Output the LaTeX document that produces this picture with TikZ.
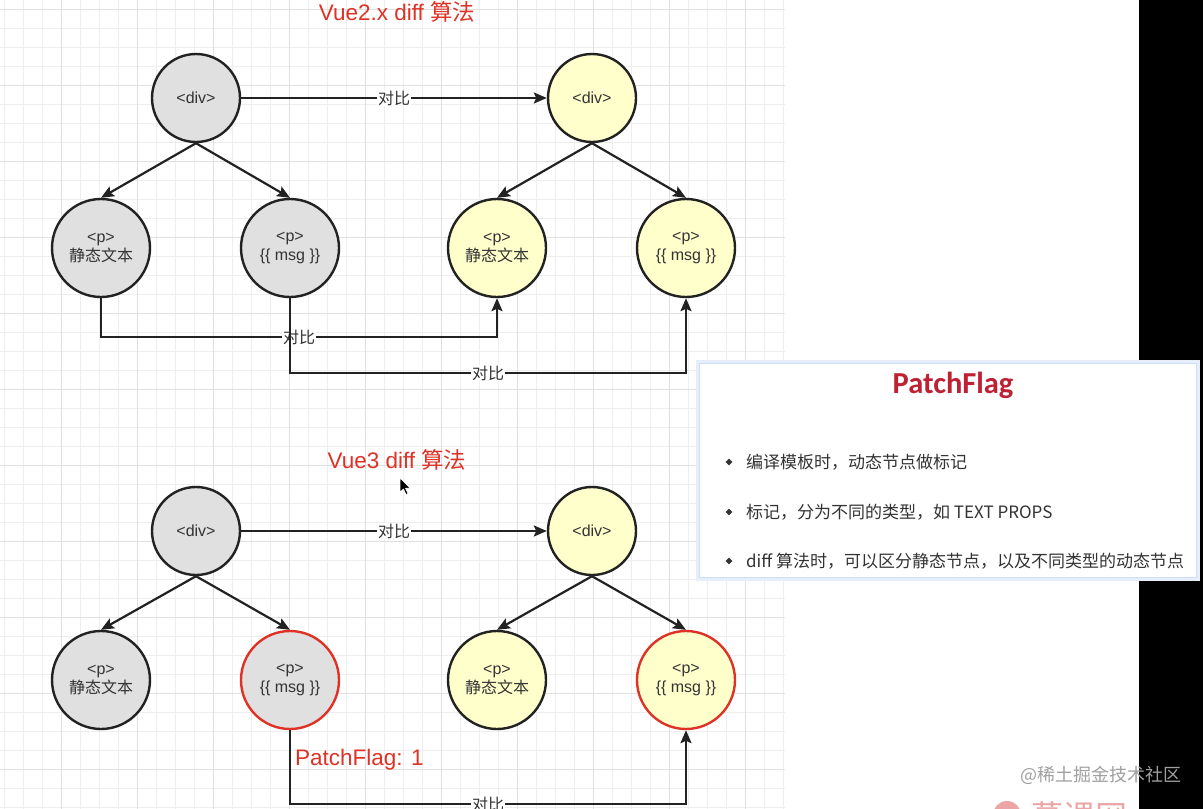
\documentclass[tikz,border=0pt]{standalone}
\usepackage{fontspec}
\setmainfont{Liberation Sans}
\newfontfamily\cjk{Noto Sans CJK SC}
\newfontfamily\calb{Carlito}
\usetikzlibrary{arrows.meta,shapes.geometric}
\definecolor{gridminor}{RGB}{238,238,238}
\definecolor{gridmajor}{RGB}{224,224,224}
\definecolor{nodegray}{RGB}{224,224,224}
\definecolor{nodeyellow}{RGB}{255,255,204}
\definecolor{edgeblack}{RGB}{34,34,34}
\definecolor{flagred}{RGB}{222,50,38}
\definecolor{titlered}{RGB}{190,32,52}
\definecolor{txt}{RGB}{51,51,51}
\definecolor{glow}{RGB}{205,222,246}
\definecolor{wm}{RGB}{160,160,160}
\definecolor{pinklogo}{RGB}{236,165,165}
\tikzset{
  vnode/.style={circle, draw=edgeblack, line width=2.4pt, text=txt,
    font=\fontsize{16}{19}\selectfont, align=center, inner sep=0pt},
  divnode/.style={vnode, minimum size=88pt},
  pnode/.style={vnode, minimum size=98pt},
  grayfill/.style={fill=nodegray},
  yellowfill/.style={fill=nodeyellow},
  flagged/.style={draw=flagred},
  conn/.style={draw=edgeblack, line width=2.2pt,
    -{Stealth[length=13pt,width=11pt,inset=2.5pt]}},
  lbl/.style={fill=white, inner sep=1pt, text=txt,
    font=\cjk\fontsize{16}{19}\selectfont},
  redtitle/.style={text=flagred, font=\fontsize{22.5}{24}\selectfont, inner sep=0pt},
  bulletmark/.style={diamond, fill=txt, minimum size=7pt, inner sep=0pt},
  bullettext/.style={anchor=west, text=txt, inner sep=0pt,
    font=\cjk\fontsize{17}{20}\selectfont},
}
\begin{document}
\begin{tikzpicture}[x=1pt,y=-1pt]
\useasboundingbox (0,0) rectangle (1203,809);
\fill[white] (0,0) rectangle (1203,809);
% grid
\foreach \i in {0,...,41} \draw[gridminor, line width=1pt] ({4.3+19*\i},0) -- ({4.3+19*\i},809);
\foreach \j in {0,...,42} \draw[gridminor, line width=1pt] (0,{9.3+19*\j}) -- (785,{9.3+19*\j});
\foreach \i in {0,...,9} \draw[gridmajor, line width=1pt] ({61.3+76*\i},0) -- ({61.3+76*\i},809);
\foreach \j in {0,...,10} \draw[gridmajor, line width=1pt] (0,{9.3+76*\j}) -- (785,{9.3+76*\j});

% ===== Vue2 =====
\node[redtitle] (t2) at (397,12) {Vue2.x diff {\cjk 算法}};
\node[divnode, grayfill] (aL) at (196,98) {<div>};
\node[divnode, yellowfill] (aR) at (592,98) {<div>};
\node[pnode, grayfill] (aL1) at (101,248) {<p>\\{\cjk 静态文本}};
\node[pnode, grayfill] (aL2) at (290,248) {<p>\\\{\{ msg \}\}};
\node[pnode, yellowfill] (aR1) at (497,248) {<p>\\{\cjk 静态文本}};
\node[pnode, yellowfill] (aR2) at (686,248) {<p>\\\{\{ msg \}\}};
\draw[conn] (aL) -- node[lbl] {对比} (aR);
\draw[conn] (aL.south) -- (aL1.north);
\draw[conn] (aL.south) -- (aL2.north);
\draw[conn] (aR.south) -- (aR1.north);
\draw[conn] (aR.south) -- (aR2.north);
\coordinate (j1) at (101,337);
\coordinate (j2) at (497,337);
\draw[conn] (aL1.south) -- (j1) -- node[lbl] {对比} (j2) -- (aR1.south);
\coordinate (j3) at (290,373);
\coordinate (j4) at (686,373);
\draw[conn] (aL2.south) -- (j3) -- node[lbl] {对比} (j4) -- (aR2.south);

% ===== Vue3 =====
\node[redtitle] (t3) at (397,460) {Vue3 diff {\cjk 算法}};
\node[divnode, grayfill] (bL) at (196,531) {<div>};
\node[divnode, yellowfill] (bR) at (592,531) {<div>};
\node[pnode, grayfill] (bL1) at (101,680) {<p>\\{\cjk 静态文本}};
\node[pnode, grayfill, flagged] (bL2) at (290,680) {<p>\\\{\{ msg \}\}};
\node[pnode, yellowfill] (bR1) at (497,680) {<p>\\{\cjk 静态文本}};
\node[pnode, yellowfill, flagged] (bR2) at (686,680) {<p>\\\{\{ msg \}\}};
\draw[conn] (bL) -- node[lbl] {对比} (bR);
\draw[conn] (bL.south) -- (bL1.north);
\draw[conn] (bL.south) -- (bL2.north);
\draw[conn] (bR.south) -- (bR1.north);
\draw[conn] (bR.south) -- (bR2.north);
\coordinate (k1) at (290,804);
\coordinate (k2) at (686,804);
\draw[conn] (bL2.south) -- (k1) -- node[lbl] {对比} (k2) -- (bR2.south);
\node[redtitle, anchor=west] (pf) at (295,760) {PatchFlag: 1};

% mouse cursor
\filldraw[black, draw=white, line width=0.6pt] (400,478) -- (400,492) -- (403.5,489) -- (406,494.5) -- (408,493.5) -- (405.5,488.3) -- (410,488) -- cycle;

% black strip
\fill[black] (1139,0) rectangle (1203,809);

% panel
\node[draw=glow!50, line width=4pt, minimum width=500pt, minimum height=217pt, inner sep=0pt] (panelglow) at (948,470.5) {};
\node[fill=white, draw=glow, line width=1.5pt, minimum width=497pt, minimum height=214pt, inner sep=0pt] (panel) at (948,470.5) {};
\node[text=titlered, font=\calb\bfseries\fontsize{30.5}{32}\selectfont, inner sep=0pt] (ptitle) at (953,385) {PatchFlag};
\node[bulletmark] (m1) at (729,462) {};
\node[bulletmark] (m2) at (729,512) {};
\node[bulletmark] (m3) at (729,561) {};
\node[bullettext] (l1) at (746,462) {编译模板时，动态节点做标记};
\node[bullettext] (l2) at (746,512) {标记，分为不同的类型，如 TEXT PROPS};
\node[bullettext] (l3) at (746,561) {diff 算法时，可以区分静态节点，以及不同类型的动态节点};

% watermarks
\node[anchor=west, text=wm, inner sep=0pt, font=\cjk\fontsize{18}{20}\selectfont] (wmk) at (1020,775) {@稀土掘金技术社区};
\fill[pinklogo] (1007,815) circle (14);
\node[anchor=north west, text=pinklogo, inner sep=0pt, font=\cjk\fontsize{32}{34}\selectfont] (logo) at (1031,801) {慕课网};
\end{tikzpicture}
\end{document}
